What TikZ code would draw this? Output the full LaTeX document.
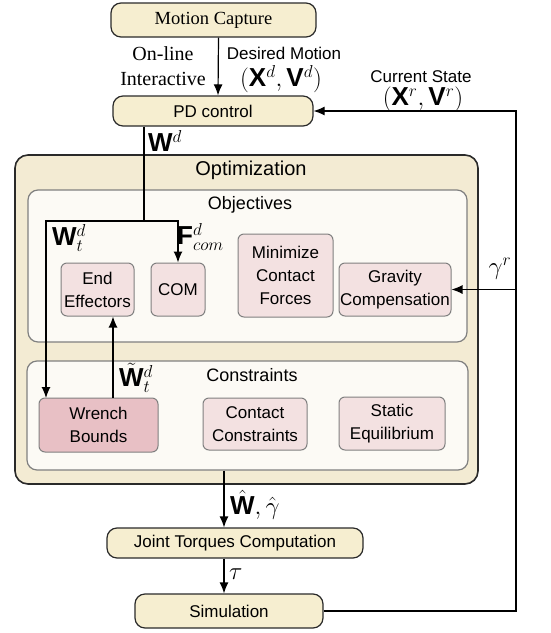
\documentclass[tikz,border=0pt]{standalone}
\usepackage{fontspec}
\setmainfont{Liberation Sans}
\newfontfamily\timesfont{Liberation Serif}
\usetikzlibrary{arrows.meta}

\definecolor{cream}{HTML}{F6EED0}
\definecolor{optfill}{HTML}{F3EBD3}
\definecolor{panel}{HTML}{FCFAF5}
\definecolor{rose}{HTML}{F3E1E1}
\definecolor{rosedark}{HTML}{E8C0C5}
\definecolor{edge}{HTML}{2A2A2A}
\definecolor{greyedge}{HTML}{808080}

\begin{document}
\begin{tikzpicture}[
x=1pt, y=-1pt,
font=\fontsize{17}{19}\selectfont,
pill/.style={
draw=edge,
line width=1.2pt,
fill=cream,
rounded corners=10pt,
inner sep=0pt
},
panelbox/.style={
draw=greyedge,
line width=1.2pt,
fill=panel,
rounded corners=10pt,
inner sep=0pt
},
task/.style={
draw=greyedge,
line width=1pt,
fill=rose,
rounded corners=6pt,
align=center,
inner sep=0pt,
font=\fontsize{17}{23}\selectfont
},
lbl/.style={
inner sep=0pt,
align=center
},
mathlbl/.style={
inner sep=0pt,
font=\fontsize{26}{28}\selectfont
},
arr/.style={
line width=1.2pt,
-{Latex[length=11pt,width=9pt]}
}
]
\useasboundingbox (0,0) rectangle (551,633);

% outer blocks
\node[pill, minimum width=205pt, minimum height=34pt] (mocap) at (213.5,20)
{\timesfont\fontsize{18.5}{20}\selectfont Motion Capture};

\node[pill, minimum width=200pt, minimum height=30pt] (pd) at (213,111)
{PD control};

\node[pill, fill=optfill, line width=1.6pt, rounded corners=13pt,
minimum width=463pt, minimum height=329pt] (opt) at (246.5,319.5)
{};

\node[panelbox, minimum width=439pt, minimum height=152pt] (obj) at (247.5,266)
{};

\node[panelbox, minimum width=441pt, minimum height=109pt] (con) at (247.5,415.5)
{};

\node[pill, minimum width=256pt, minimum height=30pt] (jtc) at (235,543)
{Joint Torques Computation};

\node[pill, minimum width=188pt, minimum height=34pt] (sim) at (229,611)
{Simulation};

% titles
\node[lbl, font=\fontsize{20}{22}\selectfont] (optname) at (251,170)
{Optimization};
\node[lbl, font=\fontsize{18}{20}\selectfont] (objname) at (250,205)
{Objectives};
\node[lbl, font=\fontsize{18}{20}\selectfont] (conname) at (252,375)
{Constraints};

% objectives
\node[task, minimum width=73pt, minimum height=53pt] (ee) at (97.5,289.5)
{End\\Effectors};

\node[task, minimum width=54pt, minimum height=53pt] (com) at (178,289.5)
{COM};

\node[task, minimum width=95pt, minimum height=83pt] (minf) at (285.5,275.5)
{Minimize\\Contact\\Forces};

\node[task, minimum width=112pt, minimum height=53pt] (grav) at (395,289.5)
{Gravity\\Compensation};

% constraints
\node[task, fill=rosedark, minimum width=119pt, minimum height=54pt] (wb) at (98.5,425)
{Wrench\\Bounds};

\node[task, minimum width=104pt, minimum height=52pt] (cc) at (255,424)
{Contact\\Constraints};

\node[task, minimum width=106pt, minimum height=53pt] (se) at (392,423.5)
{Static\\Equilibrium};

% labels
\node[lbl, font=\timesfont\fontsize{20}{25}\selectfont] (mode) at (163,66)
{On-line\\Interactive};
\node[lbl] (desired) at (284,53)
{Desired Motion};
\node[mathlbl] (xd) at (281,79)
{$(\mathbf{X}^d,\mathbf{V}^d)$};
\node[lbl] (current) at (421,77)
{Current State};
\node[mathlbl] (xr) at (423,99)
{$(\mathbf{X}^r,\mathbf{V}^r)$};
\node[mathlbl, anchor=west] (wd) at (148,141)
{$\mathbf{W}^d$};
\node[mathlbl, anchor=west] (wtd) at (52,238)
{$\mathbf{W}_t^d$};
\node[mathlbl, anchor=west] (fcom) at (177,237)
{$\mathbf{F}_{com}^d$};
\node[mathlbl] (gr) at (500,269)
{$\gamma^r$};
\node[mathlbl, anchor=west] (wtilde) at (119,378)
{$\tilde{\mathbf{W}}_t^d$};
\node[mathlbl, anchor=west] (what) at (230,505)
{$\hat{\mathbf{W}},\hat{\gamma}$};
\node[mathlbl, anchor=west, font=\fontsize{30}{32}\selectfont] (tau) at (229,574)
{$\tau$};

% routing points
\coordinate (split) at (144,221);
\coordinate (wbin) at (46,398);
\coordinate (eeup) at (113,0);
\coordinate (axis) at (224,0);
\coordinate (back) at (516,0);

% connectors
\draw[arr] ([xshift=5pt]mocap.south) -- ([xshift=5pt]pd.north);
\draw[line width=1.2pt] (pd.south -| split) -- (split);
\draw[arr] (split) -| (com.north);
\draw[arr] (split) -| (wbin);
\draw[arr] (wb.north -| eeup) -- (ee.south -| eeup);
\draw[arr] (con.south -| axis) -- (jtc.north -| axis);
\draw[arr] (jtc.south -| axis) -- (sim.north -| axis);
\draw[arr] (sim.east) -- (sim.east -| back) -- (pd.east -| back) -- (pd.east);
\draw[arr] (grav.east -| back) -- (grav.east);

\end{tikzpicture}
\end{document}
